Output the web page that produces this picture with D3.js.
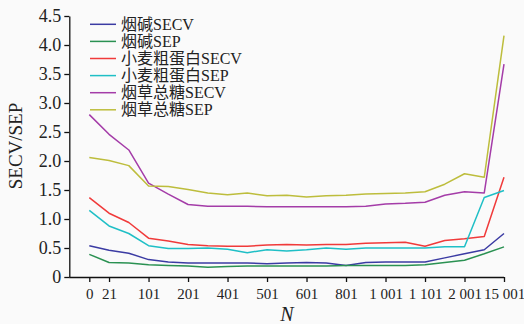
<!DOCTYPE html>
<html>
<head>
<meta charset="utf-8">
<script src="https://cdn.jsdelivr.net/npm/d3@7/dist/d3.min.js"></script>
<style>
  html, body { margin: 0; padding: 0; background: #fafafa; }
  svg { display: block; }
  text { font-family: "Liberation Serif", "Noto Sans CJK SC", serif; fill: #222; }
</style>
</head>
<body>
<div id="chart"></div>
<script>
// Sample points along the N axis (one every half tick step)
const pointIndex = d3.range(22);
// Tick positions (in point index) and their labels
const tickIndex = [0, 1, 3, 5, 7, 9, 11, 13, 15, 17, 19, 21];
const tickLabels = ["0", "21", "101", "201", "401", "501", "601", "801", "1 001", "1 101", "2 001", "15 001"];
const yTicks = [0, 0.5, 1.0, 1.5, 2.0, 2.5, 3.0, 3.5, 4.0, 4.5];

const seriesNames = ["烟碱SECV", "烟碱SEP", "小麦粗蛋白SECV", "小麦粗蛋白SEP", "烟草总糖SECV", "烟草总糖SEP"];
const seriesColors = ["#3b3ba3", "#2a9152", "#f03a3a", "#1fbfc6", "#a43ca8", "#bdbd3c"];

const nicotineSECV = [0.54, 0.46, 0.41, 0.30, 0.26, 0.24, 0.24, 0.24, 0.24, 0.23, 0.24, 0.25, 0.24, 0.20, 0.25, 0.26, 0.26, 0.26, 0.33, 0.40, 0.47, 0.75];
const nicotineSEP  = [0.39, 0.25, 0.24, 0.21, 0.20, 0.19, 0.17, 0.18, 0.19, 0.19, 0.19, 0.19, 0.19, 0.20, 0.20, 0.20, 0.20, 0.21, 0.25, 0.29, 0.40, 0.52];
const proteinSECV  = [1.37, 1.10, 0.94, 0.67, 0.62, 0.56, 0.54, 0.53, 0.53, 0.55, 0.56, 0.55, 0.56, 0.56, 0.58, 0.59, 0.60, 0.53, 0.63, 0.66, 0.70, 1.72];
const proteinSEP   = [1.15, 0.88, 0.75, 0.54, 0.49, 0.49, 0.50, 0.48, 0.42, 0.47, 0.45, 0.47, 0.50, 0.48, 0.50, 0.50, 0.50, 0.50, 0.52, 0.52, 1.37, 1.49];
const sugarSECV    = [2.80, 2.46, 2.19, 1.62, 1.43, 1.25, 1.22, 1.22, 1.22, 1.21, 1.21, 1.21, 1.21, 1.21, 1.22, 1.26, 1.27, 1.29, 1.41, 1.47, 1.45, 3.67];
const sugarSEP     = [2.06, 2.01, 1.92, 1.57, 1.56, 1.51, 1.45, 1.42, 1.45, 1.40, 1.41, 1.38, 1.40, 1.41, 1.43, 1.44, 1.45, 1.47, 1.60, 1.78, 1.72, 4.16];

const seriesValues = [nicotineSECV, nicotineSEP, proteinSECV, proteinSEP, sugarSECV, sugarSEP];

const W = 524, H = 324;
const svg = d3.select("#chart").append("svg").attr("width", W).attr("height", H);

const x = d3.scaleLinear().domain([0, 21]).range([89.3, 504]);
const y = d3.scaleLinear().domain([0, 4.5]).range([277, 16]);
const axisLeftX = 69.3;

// Plot lines
const line = d3.line().x((d, i) => x(pointIndex[i])).y(d => y(d));
seriesValues.forEach((vals, k) => {
  svg.append("path")
    .datum(vals)
    .attr("d", line)
    .attr("fill", "none")
    .attr("stroke", seriesColors[k])
    .attr("stroke-width", 1.5)
    .attr("stroke-linejoin", "round");
});

// Y axis
const yAxis = d3.axisLeft(y)
  .tickValues(yTicks)
  .tickFormat(d => d === 0 ? "0" : d3.format(".1f")(d))
  .tickSize(5)
  .tickSizeOuter(0)
  .tickPadding(3);
const gy = svg.append("g").attr("transform", `translate(${axisLeftX},0)`).call(yAxis);
gy.selectAll("text").style("font-size", "18px").attr("fill", "#222");
gy.selectAll("line, path").attr("stroke", "#111").attr("stroke-width", 1.3);

// X axis
const xAxis = d3.axisBottom(x)
  .tickValues(tickIndex)
  .tickFormat((d, i) => tickLabels[i])
  .tickSize(5)
  .tickSizeOuter(0)
  .tickPadding(6);
const gx = svg.append("g").attr("transform", `translate(0,${y(0)})`).call(xAxis);
gx.select(".domain").attr("d", `M${axisLeftX - x(0) + x(0)},0.5H${x(21)}`);
gx.selectAll("text").style("font-size", "15px").attr("fill", "#222");
gx.selectAll("line, path").attr("stroke", "#111").attr("stroke-width", 1.3);

// Axis titles
svg.append("text")
  .attr("transform", "translate(22,146) rotate(-90)")
  .attr("text-anchor", "middle")
  .style("font-size", "19px")
  .text("SECV/SEP");
svg.append("text")
  .attr("x", 287).attr("y", 321)
  .attr("text-anchor", "middle")
  .style("font-size", "20px")
  .style("font-style", "italic")
  .text("N");

// Legend
const legendTop = 24.3, legendStep = 17.1;
seriesNames.forEach((name, k) => {
  const ly = legendTop + k * legendStep;
  svg.append("line")
    .attr("x1", 90).attr("x2", 116)
    .attr("y1", ly).attr("y2", ly)
    .attr("stroke", seriesColors[k]).attr("stroke-width", 1.5);
  svg.append("text")
    .attr("x", 121).attr("y", ly)
    .attr("dy", "0.35em")
    .style("font-size", "16px")
    .attr("fill", "#333")
    .text(name);
});
</script>
</body>
</html>
